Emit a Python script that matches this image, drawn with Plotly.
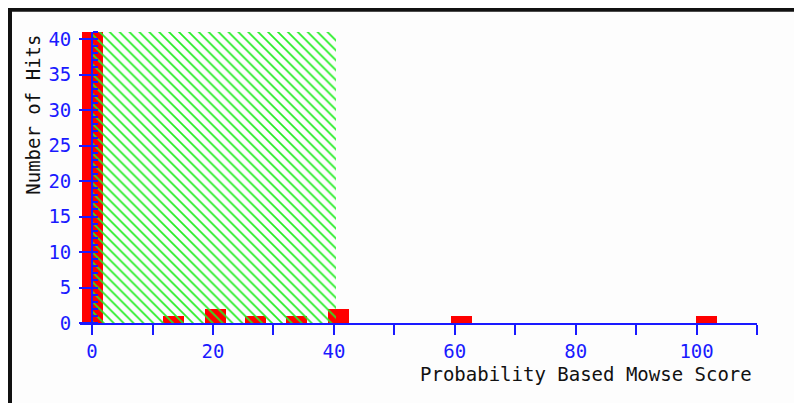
import plotly.graph_objects as go

# Data
score_bins = [0.1, 13.45, 20.4, 27.1, 33.75, 40.75, 61.05, 101.7]
hit_counts = [41, 1, 2, 1, 1, 2, 1, 1]
threshold_range = [0, 40.3]
threshold_height = 41
x_tick_values = [0, 10, 20, 30, 40, 50, 60, 70, 80, 90, 100, 110]
x_tick_labels = ["0", "", "20", "", "40", "", "60", "", "80", "", "100", ""]
y_tick_values = [0, 5, 10, 15, 20, 25, 30, 35, 40]

BLUE = "#1a1aff"
FONT = "DejaVu Sans Mono"

fig = go.Figure()

fig.add_trace(go.Bar(
    x=score_bins, y=hit_counts, width=3.5,
    marker=dict(color="#ff0000", line=dict(width=0)),
    showlegend=False,
))

fig.add_trace(go.Bar(
    x=[(threshold_range[0] + threshold_range[1]) / 2],
    y=[threshold_height],
    width=threshold_range[1] - threshold_range[0],
    marker=dict(
        color="rgba(0,0,0,0)",
        line=dict(width=0),
        pattern=dict(shape="\\", fgcolor="#22ee22", fgopacity=1, bgcolor="rgba(0,0,0,0)",
                     size=7, solidity=0.24, fillmode="overlay"),
    ),
    showlegend=False,
))

x_min, x_max = -2, 110

# The page body adds an 8px offset; screen px = figure px + 8
fig.update_layout(
    width=794, height=395,
    margin=dict(l=72, r=45, t=24, b=80, autoexpand=False),
    paper_bgcolor="#fdfdfd",
    plot_bgcolor="rgba(0,0,0,0)",
    barmode="overlay",
    bargap=0,
    font=dict(family=FONT, size=19, color="black"),
    xaxis=dict(
        range=[x_min, x_max],
        tickvals=x_tick_values, ticktext=x_tick_labels,
        ticks="outside", ticklen=10, tickwidth=2, tickcolor=BLUE,
        showline=True, linecolor=BLUE, linewidth=2,
        showgrid=False, zeroline=False,
        tickfont=dict(family=FONT, size=19, color=BLUE),
        ticklabelstandoff=0,
        anchor="y",
        automargin=False,
    ),
    yaxis=dict(
        range=[0, 41],
        tickvals=y_tick_values,
        ticks="outside", ticklen=12, tickwidth=2, tickcolor=BLUE,
        minor=dict(ticks="inside", ticklen=5, tickwidth=2, tickcolor=BLUE, dtick=1, showgrid=False),
        showline=True, linecolor=BLUE, linewidth=2,
        showgrid=False, zeroline=False,
        tickfont=dict(family=FONT, size=19, color=BLUE),
        anchor="free",
        position=(0 - x_min) / (x_max - x_min),
        ticklabelstandoff=4,
        automargin=False,
    ),
    annotations=[
        dict(text="Number of Hits", xref="paper", yref="paper",
             x=(33 - 80) / 677, y=(323.3 - 115) / 291, textangle=-90,
             showarrow=False, xanchor="center", yanchor="middle",
             font=dict(family=FONT, size=19, color="#111111")),
        dict(text="Probability Based Mowse Score", xref="paper", yref="paper",
             x=(754 - 80) / 677, y=(323.3 - 374) / 291,
             showarrow=False, xanchor="right", yanchor="middle",
             font=dict(family=FONT, size=19, color="#111111")),
    ],
    shapes=[
        dict(type="line", xref="paper", yref="paper",
             x0=(10 - 80) / 677, x1=(10 - 80) / 677,
             y0=(323.3 - 10) / 291, y1=(323.3 - 420) / 291,
             line=dict(color="#111111", width=4)),
        dict(type="line", xref="paper", yref="paper",
             x0=(8 - 80) / 677, x1=(820 - 80) / 677,
             y0=(323.3 - 10) / 291, y1=(323.3 - 10) / 291,
             line=dict(color="#111111", width=4)),
    ],
)

fig.write_html("out.html")
